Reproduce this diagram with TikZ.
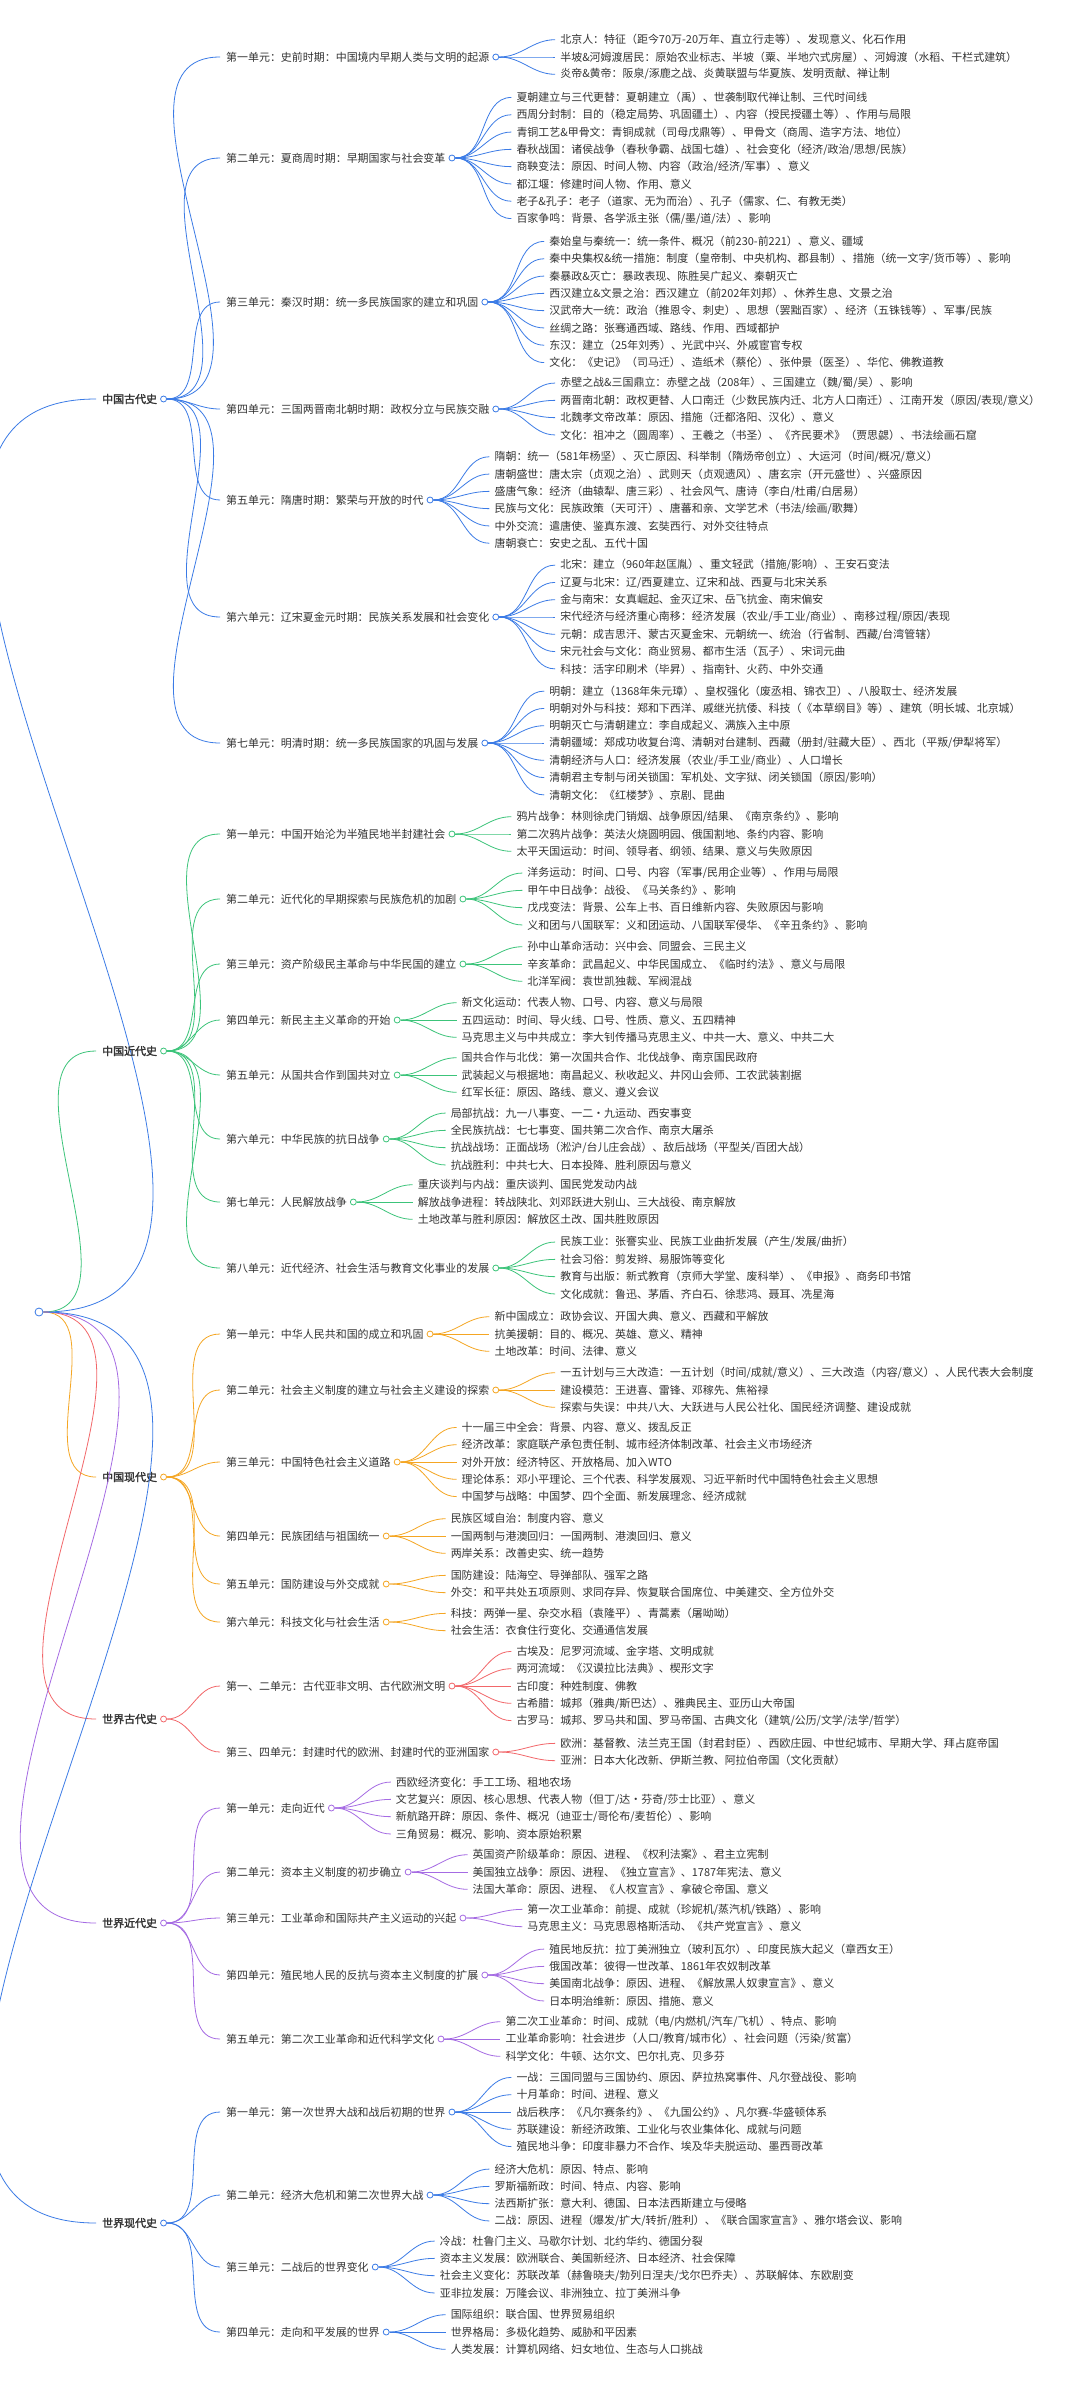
\documentclass[tikz,border=0pt]{standalone}
\usepackage{fontspec}
\setmainfont{Noto Sans CJK SC}[BoldFont=Noto Sans CJK SC, BoldFeatures={FakeBold=2}]
\usetikzlibrary{positioning}

\definecolor{ink}{HTML}{333333}
\definecolor{blueA}{HTML}{3B7BE6}
\definecolor{greenA}{HTML}{3CC47A}
\definecolor{orangeA}{HTML}{F5A623}
\definecolor{redA}{HTML}{F2676A}
\definecolor{purpleA}{HTML}{A56BE3}

\tikzset{
  every node/.style={font=\fontsize{11}{13}\selectfont, text=ink, inner sep=0pt},
  topic/.style={anchor=west, font=\fontsize{11}{13}\selectfont\bfseries},
  unit/.style={anchor=west},
  leaf/.style={anchor=west},
  knob/.style={circle, draw=#1, fill=white, line width=0.8pt, minimum size=6pt},
  link/.style={draw=#1, line width=0.8pt},
  conn/.style={out=0, in=180}
}

% topic: name, y, colour, text
\newcommand\histtopic[4]{%
  \node[topic] (#1) at (102,#2) {#4};
  \node[knob=#3, right=3pt of #1] (#1k) {};
  \draw[link=#3] (root.east) to[conn] ([xshift=-6]#1.west);
}
% unit: parent, name, y, colour, text, number of leaves, leaves
\newcommand\histunit[7]{%
  \node[unit] (#2) at (226,#3) {#5};
  \node[knob=#4, right=3pt of #2] (#2k) {};
  \draw[link=#4] (#1k.east) to[conn] ([xshift=-6]#2.west);
  \foreach \t [count=\i] in {#7}{
    \path (#2k.east) ++(56,{(\i-(#6+1)/2)*17.3}) coordinate (#2c\i);
    \node[leaf] (#2l\i) at ([xshift=5]#2c\i) {\t};
    \draw[link=#4] (#2k.east) to[conn] (#2c\i);
  }
}

\begin{document}
\begin{tikzpicture}[x=1bp, y=-1bp]
  \useasboundingbox[fill=white] (0,0) rectangle (1080,2391);
  \node[knob=blueA, minimum size=8pt] (root) at (39,1312) {};

  \histtopic{gudai}{399}{blueA}{中国古代史}
  \histtopic{jindai}{1051}{greenA}{中国近代史}
  \histtopic{xiandai}{1477}{orangeA}{中国现代史}
  \histtopic{shigu}{1719}{redA}{世界古代史}
  \histtopic{shijin}{1923}{purpleA}{世界近代史}
  \histtopic{shixian}{2223}{blueA}{世界现代史}

  % 中国古代史
  \histunit{gudai}{ga}{57}{blueA}{第一单元：史前时期：中国境内早期人类与文明的起源}{3}{
    北京人：特征（距今70万-20万年、直立行走等）、发现意义、化石作用,
    半坡\&河姆渡居民：原始农业标志、半坡（粟、半地穴式房屋）、河姆渡（水稻、干栏式建筑）,
    炎帝\&黄帝：阪泉/涿鹿之战、炎黄联盟与华夏族、发明贡献、禅让制}
  \histunit{gudai}{gb}{158}{blueA}{第二单元：夏商周时期：早期国家与社会变革}{8}{
    夏朝建立与三代更替：夏朝建立（禹）、世袭制取代禅让制、三代时间线,
    西周分封制：目的（稳定局势、巩固疆土）、内容（授民授疆土等）、作用与局限,
    青铜工艺\&甲骨文：青铜成就（司母戊鼎等）、甲骨文（商周、造字方法、地位）,
    春秋战国：诸侯战争（春秋争霸、战国七雄）、社会变化（经济/政治/思想/民族）,
    商鞅变法：原因、时间人物、内容（政治/经济/军事）、意义,
    都江堰：修建时间人物、作用、意义,
    老子\&孔子：老子（道家、无为而治）、孔子（儒家、仁、有教无类）,
    百家争鸣：背景、各学派主张（儒/墨/道/法）、影响}
  \histunit{gudai}{gc}{302}{blueA}{第三单元：秦汉时期：统一多民族国家的建立和巩固}{8}{
    秦始皇与秦统一：统一条件、概况（前230-前221）、意义、疆域,
    秦中央集权\&统一措施：制度（皇帝制、中央机构、郡县制）、措施（统一文字/货币等）、影响,
    秦暴政\&灭亡：暴政表现、陈胜吴广起义、秦朝灭亡,
    西汉建立\&文景之治：西汉建立（前202年刘邦）、休养生息、文景之治,
    汉武帝大一统：政治（推恩令、刺史）、思想（罢黜百家）、经济（五铢钱等）、军事/民族,
    丝绸之路：张骞通西域、路线、作用、西域都护,
    东汉：建立（25年刘秀）、光武中兴、外戚宦官专权,
    文化：《史记》（司马迁）、造纸术（蔡伦）、张仲景（医圣）、华佗、佛教道教}
  \histunit{gudai}{gd}{409}{blueA}{第四单元：三国两晋南北朝时期：政权分立与民族交融}{4}{
    赤壁之战\&三国鼎立：赤壁之战（208年）、三国建立（魏/蜀/吴）、影响,
    两晋南北朝：政权更替、人口南迁（少数民族内迁、北方人口南迁）、江南开发（原因/表现/意义）,
    北魏孝文帝改革：原因、措施（迁都洛阳、汉化）、意义,
    文化：祖冲之（圆周率）、王羲之（书圣）、《齐民要术》（贾思勰）、书法绘画石窟}
  \histunit{gudai}{ge}{500}{blueA}{第五单元：隋唐时期：繁荣与开放的时代}{6}{
    隋朝：统一（581年杨坚）、灭亡原因、科举制（隋炀帝创立）、大运河（时间/概况/意义）,
    唐朝盛世：唐太宗（贞观之治）、武则天（贞观遗风）、唐玄宗（开元盛世）、兴盛原因,
    盛唐气象：经济（曲辕犁、唐三彩）、社会风气、唐诗（李白/杜甫/白居易）,
    民族与文化：民族政策（天可汗）、唐蕃和亲、文学艺术（书法/绘画/歌舞）,
    中外交流：遣唐使、鉴真东渡、玄奘西行、对外交往特点,
    唐朝衰亡：安史之乱、五代十国}
  \histunit{gudai}{gf}{617}{blueA}{第六单元：辽宋夏金元时期：民族关系发展和社会变化}{7}{
    北宋：建立（960年赵匡胤）、重文轻武（措施/影响）、王安石变法,
    辽夏与北宋：辽/西夏建立、辽宋和战、西夏与北宋关系,
    金与南宋：女真崛起、金灭辽宋、岳飞抗金、南宋偏安,
    宋代经济与经济重心南移：经济发展（农业/手工业/商业）、南移过程/原因/表现,
    元朝：成吉思汗、蒙古灭夏金宋、元朝统一、统治（行省制、西藏/台湾管辖）,
    宋元社会与文化：商业贸易、都市生活（瓦子）、宋词元曲,
    科技：活字印刷术（毕昇）、指南针、火药、中外交通}
  \histunit{gudai}{gg}{743}{blueA}{第七单元：明清时期：统一多民族国家的巩固与发展}{7}{
    明朝：建立（1368年朱元璋）、皇权强化（废丞相、锦衣卫）、八股取士、经济发展,
    明朝对外与科技：郑和下西洋、戚继光抗倭、科技（《本草纲目》等）、建筑（明长城、北京城）,
    明朝灭亡与清朝建立：李自成起义、满族入主中原,
    清朝疆域：郑成功收复台湾、清朝对台建制、西藏（册封/驻藏大臣）、西北（平叛/伊犁将军）,
    清朝经济与人口：经济发展（农业/手工业/商业）、人口增长,
    清朝君主专制与闭关锁国：军机处、文字狱、闭关锁国（原因/影响）,
    清朝文化：《红楼梦》、京剧、昆曲}

  % 中国近代史
  \histunit{jindai}{ja}{834}{greenA}{第一单元：中国开始沦为半殖民地半封建社会}{3}{
    鸦片战争：林则徐虎门销烟、战争原因/结果、《南京条约》、影响,
    第二次鸦片战争：英法火烧圆明园、俄国割地、条约内容、影响,
    太平天国运动：时间、领导者、纲领、结果、意义与失败原因}
  \histunit{jindai}{jb}{899}{greenA}{第二单元：近代化的早期探索与民族危机的加剧}{4}{
    洋务运动：时间、口号、内容（军事/民用企业等）、作用与局限,
    甲午中日战争：战役、《马关条约》、影响,
    戊戌变法：背景、公车上书、百日维新内容、失败原因与影响,
    义和团与八国联军：义和团运动、八国联军侵华、《辛丑条约》、影响}
  \histunit{jindai}{jc}{964}{greenA}{第三单元：资产阶级民主革命与中华民国的建立}{3}{
    孙中山革命活动：兴中会、同盟会、三民主义,
    辛亥革命：武昌起义、中华民国成立、《临时约法》、意义与局限,
    北洋军阀：袁世凯独裁、军阀混战}
  \histunit{jindai}{jd}{1020}{greenA}{第四单元：新民主主义革命的开始}{3}{
    新文化运动：代表人物、口号、内容、意义与局限,
    五四运动：时间、导火线、口号、性质、意义、五四精神,
    马克思主义与中共成立：李大钊传播马克思主义、中共一大、意义、中共二大}
  \histunit{jindai}{je}{1075}{greenA}{第五单元：从国共合作到国共对立}{3}{
    国共合作与北伐：第一次国共合作、北伐战争、南京国民政府,
    武装起义与根据地：南昌起义、秋收起义、井冈山会师、工农武装割据,
    红军长征：原因、路线、意义、遵义会议}
  \histunit{jindai}{jf}{1139}{greenA}{第六单元：中华民族的抗日战争}{4}{
    局部抗战：九一八事变、一二·九运动、西安事变,
    全民族抗战：七七事变、国共第二次合作、南京大屠杀,
    抗战战场：正面战场（淞沪/台儿庄会战）、敌后战场（平型关/百团大战）,
    抗战胜利：中共七大、日本投降、胜利原因与意义}
  \histunit{jindai}{jg}{1202}{greenA}{第七单元：人民解放战争}{3}{
    重庆谈判与内战：重庆谈判、国民党发动内战,
    解放战争进程：转战陕北、刘邓跃进大别山、三大战役、南京解放,
    土地改革与胜利原因：解放区土改、国共胜败原因}
  \histunit{jindai}{jh}{1268}{greenA}{第八单元：近代经济、社会生活与教育文化事业的发展}{4}{
    民族工业：张謇实业、民族工业曲折发展（产生/发展/曲折）,
    社会习俗：剪发辫、易服饰等变化,
    教育与出版：新式教育（京师大学堂、废科举）、《申报》、商务印书馆,
    文化成就：鲁迅、茅盾、齐白石、徐悲鸿、聂耳、冼星海}

  % 中国现代史
  \histunit{xiandai}{xa}{1334}{orangeA}{第一单元：中华人民共和国的成立和巩固}{3}{
    新中国成立：政协会议、开国大典、意义、西藏和平解放,
    抗美援朝：目的、概况、英雄、意义、精神,
    土地改革：时间、法律、意义}
  \histunit{xiandai}{xb}{1390}{orangeA}{第二单元：社会主义制度的建立与社会主义建设的探索}{3}{
    一五计划与三大改造：一五计划（时间/成就/意义）、三大改造（内容/意义）、人民代表大会制度,
    建设模范：王进喜、雷锋、邓稼先、焦裕禄,
    探索与失误：中共八大、大跃进与人民公社化、国民经济调整、建设成就}
  \histunit{xiandai}{xc}{1462}{orangeA}{第三单元：中国特色社会主义道路}{5}{
    十一届三中全会：背景、内容、意义、拨乱反正,
    经济改革：家庭联产承包责任制、城市经济体制改革、社会主义市场经济,
    对外开放：经济特区、开放格局、加入WTO,
    理论体系：邓小平理论、三个代表、科学发展观、习近平新时代中国特色社会主义思想,
    中国梦与战略：中国梦、四个全面、新发展理念、经济成就}
  \histunit{xiandai}{xd}{1536}{orangeA}{第四单元：民族团结与祖国统一}{3}{
    民族区域自治：制度内容、意义,
    一国两制与港澳回归：一国两制、港澳回归、意义,
    两岸关系：改善史实、统一趋势}
  \histunit{xiandai}{xe}{1584}{orangeA}{第五单元：国防建设与外交成就}{2}{
    国防建设：陆海空、导弹部队、强军之路,
    外交：和平共处五项原则、求同存异、恢复联合国席位、中美建交、全方位外交}
  \histunit{xiandai}{xf}{1622}{orangeA}{第六单元：科技文化与社会生活}{2}{
    科技：两弹一星、杂交水稻（袁隆平）、青蒿素（屠呦呦）,
    社会生活：衣食住行变化、交通通信发展}

  % 世界古代史
  \histunit{shigu}{sa}{1686}{redA}{第一、二单元：古代亚非文明、古代欧洲文明}{5}{
    古埃及：尼罗河流域、金字塔、文明成就,
    两河流域：《汉谟拉比法典》、楔形文字,
    古印度：种姓制度、佛教,
    古希腊：城邦（雅典/斯巴达）、雅典民主、亚历山大帝国,
    古罗马：城邦、罗马共和国、罗马帝国、古典文化（建筑/公历/文学/法学/哲学）}
  \histunit{shigu}{sb}{1752}{redA}{第三、四单元：封建时代的欧洲、封建时代的亚洲国家}{2}{
    欧洲：基督教、法兰克王国（封君封臣）、西欧庄园、中世纪城市、早期大学、拜占庭帝国,
    亚洲：日本大化改新、伊斯兰教、阿拉伯帝国（文化贡献）}

  % 世界近代史
  \histunit{shijin}{ta}{1808}{purpleA}{第一单元：走向近代}{4}{
    西欧经济变化：手工工场、租地农场,
    文艺复兴：原因、核心思想、代表人物（但丁/达·芬奇/莎士比亚）、意义,
    新航路开辟：原因、条件、概况（迪亚士/哥伦布/麦哲伦）、影响,
    三角贸易：概况、影响、资本原始积累}
  \histunit{shijin}{tb}{1872}{purpleA}{第二单元：资本主义制度的初步确立}{3}{
    英国资产阶级革命：原因、进程、《权利法案》、君主立宪制,
    美国独立战争：原因、进程、《独立宣言》、1787年宪法、意义,
    法国大革命：原因、进程、《人权宣言》、拿破仑帝国、意义}
  \histunit{shijin}{tc}{1918}{purpleA}{第三单元：工业革命和国际共产主义运动的兴起}{2}{
    第一次工业革命：前提、成就（珍妮机/蒸汽机/铁路）、影响,
    马克思主义：马克思恩格斯活动、《共产党宣言》、意义}
  \histunit{shijin}{td}{1975}{purpleA}{第四单元：殖民地人民的反抗与资本主义制度的扩展}{4}{
    殖民地反抗：拉丁美洲独立（玻利瓦尔）、印度民族大起义（章西女王）,
    俄国改革：彼得一世改革、1861年农奴制改革,
    美国南北战争：原因、进程、《解放黑人奴隶宣言》、意义,
    日本明治维新：原因、措施、意义}
  \histunit{shijin}{te}{2039}{purpleA}{第五单元：第二次工业革命和近代科学文化}{3}{
    第二次工业革命：时间、成就（电/内燃机/汽车/飞机）、特点、影响,
    工业革命影响：社会进步（人口/教育/城市化）、社会问题（污染/贫富）,
    科学文化：牛顿、达尔文、巴尔扎克、贝多芬}

  % 世界现代史
  \histunit{shixian}{ua}{2112}{blueA}{第一单元：第一次世界大战和战后初期的世界}{5}{
    一战：三国同盟与三国协约、原因、萨拉热窝事件、凡尔登战役、影响,
    十月革命：时间、进程、意义,
    战后秩序：《凡尔赛条约》、《九国公约》、凡尔赛-华盛顿体系,
    苏联建设：新经济政策、工业化与农业集体化、成就与问题,
    殖民地斗争：印度非暴力不合作、埃及华夫脱运动、墨西哥改革}
  \histunit{shixian}{ub}{2195}{blueA}{第二单元：经济大危机和第二次世界大战}{4}{
    经济大危机：原因、特点、影响,
    罗斯福新政：时间、特点、内容、影响,
    法西斯扩张：意大利、德国、日本法西斯建立与侵略,
    二战：原因、进程（爆发/扩大/转折/胜利）、《联合国家宣言》、雅尔塔会议、影响}
  \histunit{shixian}{uc}{2267}{blueA}{第三单元：二战后的世界变化}{4}{
    冷战：杜鲁门主义、马歇尔计划、北约华约、德国分裂,
    资本主义发展：欧洲联合、美国新经济、日本经济、社会保障,
    社会主义变化：苏联改革（赫鲁晓夫/勃列日涅夫/戈尔巴乔夫）、苏联解体、东欧剧变,
    亚非拉发展：万隆会议、非洲独立、拉丁美洲斗争}
  \histunit{shixian}{ud}{2332}{blueA}{第四单元：走向和平发展的世界}{3}{
    国际组织：联合国、世界贸易组织,
    世界格局：多极化趋势、威胁和平因素,
    人类发展：计算机网络、妇女地位、生态与人口挑战}
\end{tikzpicture}
\end{document}
